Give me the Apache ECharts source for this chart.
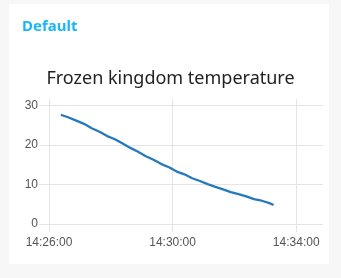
<!DOCTYPE html>
<html><head><meta charset="utf-8">
<script src="https://cdn.jsdelivr.net/npm/echarts@6/dist/echarts.min.js"></script>
<style>html,body{margin:0;padding:0;background:#f7f7f7;}#c{width:341px;height:278px;}</style>
</head><body><div id="c"></div>
<script>
// seconds after 14:26:00
const seconds = [23,38,53,68,83,98,113,128,143,158,173,188,203,218,233,248,263,278,293,308,323,338,353,368,383,398,413,428,436];
const temperature = [27.7,27.0,26.2,25.4,24.3,23.4,22.3,21.5,20.4,19.3,18.3,17.2,16.3,15.2,14.4,13.3,12.6,11.6,10.9,10.1,9.4,8.8,8.1,7.6,7.0,6.3,5.9,5.3,4.8];
const xTicks = ['14:26:00','14:30:00','14:34:00'];
const yTicks = [0,10,20,30];
const titleText = 'Frozen kingdom temperature';
const groupLabel = 'Default';

const chart = echarts.init(document.getElementById('c'), null, {renderer:'canvas'});
const data = seconds.map((s,i)=>[s, temperature[i]]);
chart.setOption({
  animation:false,
  backgroundColor:'#f7f7f7',
  graphic:[
    {type:'rect', z:-10, shape:{x:9,y:4,width:320,height:260}, style:{fill:'#ffffff'}},
    {type:'text', left:22, top:19, style:{text:groupLabel, fill:'#1bb6f9', font:'bold 15px "Noto Sans"'}}
  ],
  title:{text:titleText, left:'center', top:65,
    textStyle:{fontFamily:'Noto Sans', fontSize:18, fontWeight:'normal', color:'#222'}},
  grid:{left:49, right:18, top:99, bottom:54},
  xAxis:{type:'value', min:0, max:532, interval:240,
    axisLine:{show:false},
    axisTick:{show:true, length:8, lineStyle:{color:'#e5e5e5'}},
    splitLine:{show:true, showMaxLine:false, lineStyle:{color:'#e5e5e5'}},
    axisLabel:{showMaxLabel:false, color:'#555', fontFamily:'Liberation Sans', fontSize:12, margin:13,
      formatter:v=>xTicks[Math.round(v/240)]}},
  yAxis:{type:'value', min:0, max:31.7, interval:10,
    axisLine:{show:true, lineStyle:{color:'#e5e5e5'}},
    axisTick:{show:true, length:10, lineStyle:{color:'#e5e5e5'}},
    splitLine:{show:true, showMaxLine:false, lineStyle:{color:'#e5e5e5'}},
    axisLabel:{showMaxLabel:false, color:'#555', fontFamily:'Liberation Sans', fontSize:12, margin:11,
      formatter:v=>yTicks.includes(v)?String(v):''}},
  series:[{type:'line', data:data, showSymbol:false, symbol:'none',
    lineStyle:{color:'#2679bd', width:2.3}}]
});
</script></body></html>
